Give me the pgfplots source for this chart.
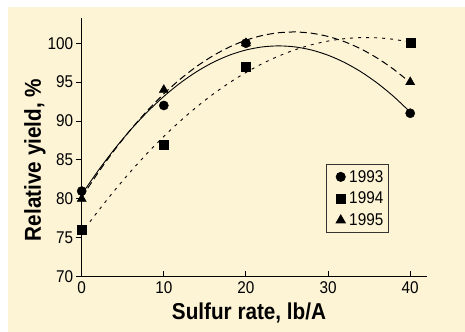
\documentclass[border=0pt]{standalone}
\usepackage{pgfplots}
\pgfplotsset{compat=1.18}
\usepackage{fontspec}
\setmainfont{Liberation Sans}[FakeStretch=0.9]
\definecolor{cream}{RGB}{253,244,214}
\begin{document}
\begin{tikzpicture}
\path[use as bounding box] (0,0) rectangle (465bp,332bp);
\fill[cream] (8bp,0) rectangle (465bp,325bp);
\begin{axis}[
  at={(81.7bp,55.3bp)}, anchor=south west,
  x=8.2125bp, y=7.7833bp,
  xmin=0, xmax=42.1, ymin=70, ymax=103.2,
  axis x line*=bottom, axis y line*=left,
  axis line style={line width=1.2bp, -},
  xtick={0,10,20,30,40}, ytick={70,75,80,85,90,95,100},
  xtick align=inside, ytick align=outside,
  tick style={black, line width=1bp}, major tick length=6bp,
  tick label style={font=\fontsize{17bp}{19bp}\selectfont},
  /pgf/number format/assume math mode=true,
  xticklabel style={yshift=-1bp},
  yticklabel style={xshift=1bp},
  xlabel={Sulfur rate, lb/A},
  ylabel={Relative yield, \%},
  label style={font=\fontsize{23bp}{26bp}\selectfont\bfseries},
  xlabel style={at={(axis description cs:0.484,-0.166)}, anchor=base},
  ylabel style={at={(axis description cs:-0.135,0.452)}, anchor=center},
  legend style={at={(axis description cs:0.707,0.435)}, anchor=north west,
    draw=black!80, line width=0.8bp, fill=none,
    font=\fontsize{17bp}{19bp}\selectfont, inner sep=4bp,
    row sep=5.3bp,
    nodes={inner sep=1.5bp}},
  legend image code/.code={\path[draw=none,fill=none] (0bp,0bp) -- (17.2bp,0bp); \draw[#1] plot coordinates {(10.2bp,0bp)};},
  legend cell align=left,
  clip=false,
]
% fitted curves
\addplot[black, line width=0.9bp, smooth, forget plot] coordinates {
(0,80.565)(2,83.615)(4,86.401)(6,88.921)(8,91.175)(10,93.164)(12,94.887)(14,96.346)(16,97.538)(18,98.466)(20,99.127)(22,99.523)(24,99.654)(26,99.519)(28,99.120)(30,98.454)(32,97.523)(34,96.327)(36,94.865)(38,93.138)(40,91.145)};
\addplot[black, line width=0.9bp, smooth, dash pattern=on 3bp off 5bp, forget plot] coordinates {
(1,77.048)(2,78.434)(4,81.081)(6,83.562)(8,85.875)(10,88.020)(12,89.998)(14,91.809)(16,93.453)(18,94.929)(20,96.238)(22,97.380)(24,98.354)(26,99.163)(28,99.802)(30,100.275)(32,100.580)(34,100.718)(36,100.690)(38,100.494)(40,100.130)};
\addplot[black, line width=1bp, smooth, dash pattern=on 7bp off 4bp, forget plot] coordinates {
(0,80.19)(2,83.363)(4,86.279)(6,88.939)(8,91.343)(10,93.491)(12,95.382)(14,97.016)(16,98.394)(18,99.516)(20,100.382)(22,100.991)(24,101.344)(26,101.441)(28,101.281)(30,100.864)(32,100.192)(34,99.263)(36,98.078)(38,96.636)(40,94.938)};
% data points
\addplot[only marks, mark=*, mark size=4.6bp, black] coordinates {(0,81)(10,92)(20,100)(40,91)};
\addlegendentry{1993}
\addplot[only marks, mark=square*, mark size=4.5bp, black] coordinates {(0,76)(10,87)(20,97)(40,100)};
\addlegendentry{1994}
\addplot[only marks, mark=triangle*, mark size=5.3bp, black] coordinates {(0,80)(10,94)(20,100)(40,95)};
\addlegendentry{1995}
\end{axis}
\end{tikzpicture}
\end{document}
